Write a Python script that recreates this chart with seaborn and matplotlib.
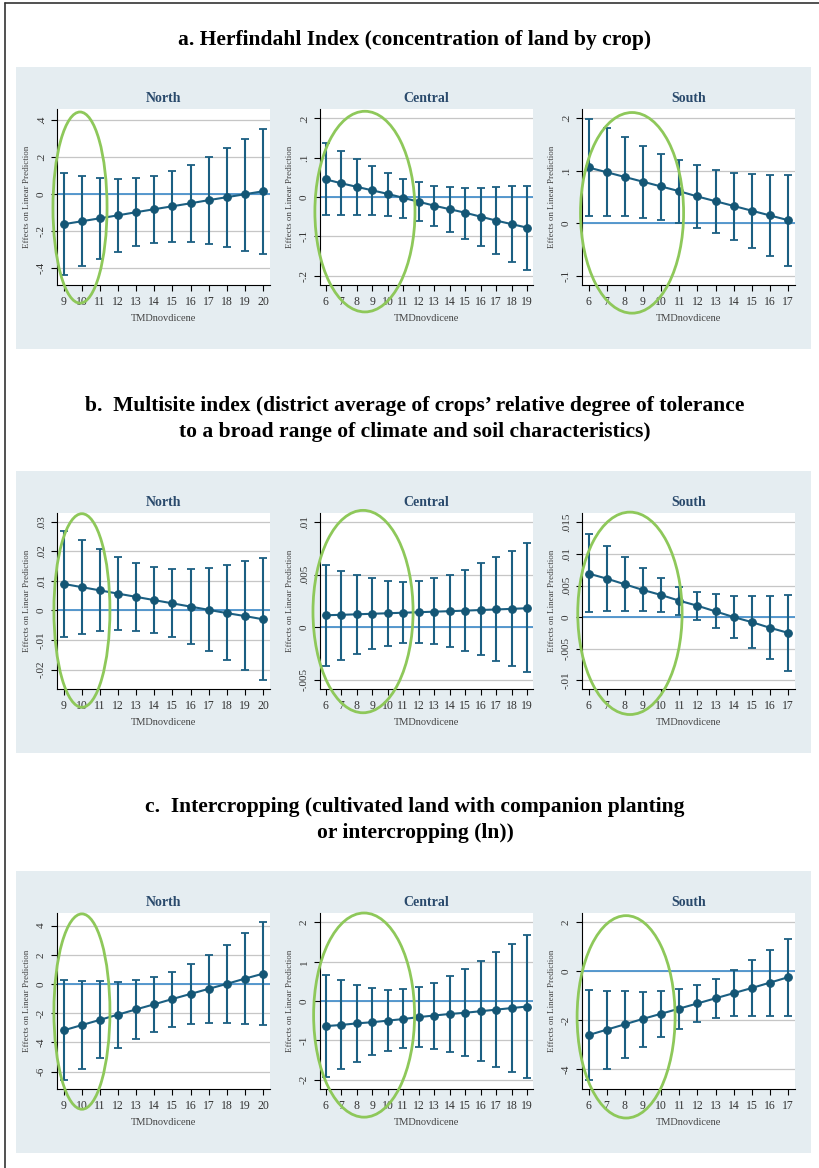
import numpy as np
import pandas as pd
import matplotlib
matplotlib.use("Agg")
import matplotlib.pyplot as plt
import seaborn as sns
from matplotlib.patches import Ellipse, Rectangle

# ------------------------------------------------------------
# Data
# ------------------------------------------------------------

north_x = list(range(9, 21))
central_x = list(range(6, 20))
south_x = list(range(6, 18))

# a. Herfindahl index
a_north_est = [-0.162, -0.146, -0.130, -0.114, -0.097, -0.081, -0.065, -0.049, -0.032, -0.016, 0.000, 0.016]
a_north_hi = [0.116, 0.098, 0.087, 0.082, 0.086, 0.100, 0.128, 0.160, 0.203, 0.250, 0.300, 0.352]
a_north_lo = [-0.438, -0.390, -0.350, -0.312, -0.282, -0.263, -0.256, -0.258, -0.268, -0.285, -0.305, -0.325]

a_central_est = [0.045, 0.035, 0.026, 0.017, 0.008, -0.002, -0.012, -0.022, -0.031, -0.040, -0.050, -0.060, -0.069, -0.078]
a_central_hi = [0.137, 0.117, 0.097, 0.078, 0.062, 0.047, 0.037, 0.029, 0.026, 0.024, 0.024, 0.025, 0.027, 0.028]
a_central_lo = [-0.047, -0.046, -0.045, -0.046, -0.048, -0.053, -0.062, -0.073, -0.089, -0.106, -0.125, -0.145, -0.166, -0.186]

a_south_est = [0.106, 0.097, 0.088, 0.079, 0.070, 0.061, 0.051, 0.042, 0.033, 0.024, 0.015, 0.006]
a_south_hi = [0.198, 0.180, 0.163, 0.147, 0.132, 0.120, 0.110, 0.101, 0.096, 0.093, 0.092, 0.091]
a_south_lo = [0.014, 0.014, 0.013, 0.010, 0.006, 0.001, -0.008, -0.018, -0.031, -0.046, -0.062, -0.080]

# b. Multisite index
b_north_est = [0.0090, 0.0079, 0.0068, 0.0057, 0.0046, 0.0035, 0.0024, 0.0013, 0.0002, -0.0009, -0.0019, -0.0030]
b_north_hi = [0.0270, 0.0237, 0.0208, 0.0182, 0.0161, 0.0147, 0.0141, 0.0141, 0.0145, 0.0154, 0.0166, 0.0178]
b_north_lo = [-0.0090, -0.0080, -0.0071, -0.0067, -0.0068, -0.0075, -0.0091, -0.0112, -0.0139, -0.0169, -0.0202, -0.0235]

b_central_est = [0.00114, 0.00118, 0.00123, 0.00128, 0.00133, 0.00138, 0.00143, 0.00148, 0.00153, 0.00158, 0.00164, 0.00169, 0.00175, 0.00181]
b_central_hi = [0.0059, 0.0054, 0.0050, 0.0047, 0.0044, 0.0043, 0.0044, 0.0047, 0.0050, 0.0055, 0.0061, 0.0067, 0.0073, 0.0080]
b_central_lo = [-0.0037, -0.0031, -0.0026, -0.0021, -0.0018, -0.0015, -0.0015, -0.0016, -0.0019, -0.0023, -0.0027, -0.0032, -0.0037, -0.0043]

b_south_est = [0.0069, 0.0061, 0.0052, 0.0043, 0.0035, 0.0026, 0.0018, 0.0009, 0.0000, -0.0008, -0.0017, -0.0025]
b_south_hi = [0.0131, 0.0113, 0.0095, 0.0078, 0.0062, 0.0048, 0.0039, 0.0036, 0.0034, 0.0033, 0.0034, 0.0035]
b_south_lo = [0.0008, 0.0009, 0.0009, 0.0009, 0.0008, 0.0004, -0.0004, -0.0017, -0.0033, -0.0049, -0.0067, -0.0085]

# c. Intercropping
c_north_est = [-3.18, -2.82, -2.46, -2.10, -1.74, -1.39, -1.03, -0.68, -0.33, 0.01, 0.37, 0.71]
c_north_hi = [0.30, 0.24, 0.18, 0.17, 0.25, 0.48, 0.85, 1.35, 1.99, 2.70, 3.47, 4.23]
c_north_lo = [-6.58, -5.81, -5.07, -4.37, -3.75, -3.27, -2.93, -2.74, -2.67, -2.67, -2.72, -2.81]

c_central_est = [-0.64, -0.61, -0.57, -0.54, -0.50, -0.46, -0.41, -0.37, -0.33, -0.30, -0.26, -0.22, -0.18, -0.14]
c_central_hi = [0.65, 0.53, 0.42, 0.34, 0.29, 0.30, 0.36, 0.47, 0.63, 0.81, 1.03, 1.24, 1.46, 1.68]
c_central_lo = [-1.94, -1.73, -1.54, -1.38, -1.26, -1.19, -1.18, -1.22, -1.30, -1.41, -1.53, -1.67, -1.80, -1.96]

c_south_est = [-2.60, -2.38, -2.16, -1.94, -1.73, -1.52, -1.31, -1.10, -0.89, -0.68, -0.46, -0.24]
c_south_hi = [-0.75, -0.79, -0.82, -0.83, -0.81, -0.71, -0.56, -0.30, 0.07, 0.46, 0.88, 1.33]
c_south_lo = [-4.43, -3.97, -3.52, -3.10, -2.69, -2.34, -2.08, -1.92, -1.82, -1.81, -1.82, -1.83]

# y ticks and labels (Stata style)
a_north_yt = [-0.4, -0.2, 0, 0.2, 0.4]
a_north_yl = ["-.4", "-.2", "0", ".2", ".4"]
a_central_yt = [-0.2, -0.1, 0, 0.1, 0.2]
a_central_yl = ["-.2", "-.1", "0", ".1", ".2"]
a_south_yt = [-0.1, 0, 0.1, 0.2]
a_south_yl = ["-.1", "0", ".1", ".2"]
b_north_yt = [-0.02, -0.01, 0, 0.01, 0.02, 0.03]
b_north_yl = ["-.02", "-.01", "0", ".01", ".02", ".03"]
b_central_yt = [-0.005, 0, 0.005, 0.01]
b_central_yl = ["-.005", "0", ".005", ".01"]
b_south_yt = [-0.01, -0.005, 0, 0.005, 0.01, 0.015]
b_south_yl = ["-.01", "-.005", "0", ".005", ".01", ".015"]
c_north_yt = [-6, -4, -2, 0, 2, 4]
c_north_yl = ["-6", "-4", "-2", "0", "2", "4"]
c_central_yt = [-2, -1, 0, 1, 2]
c_central_yl = ["-2", "-1", "0", "1", "2"]
c_south_yt = [-4, -2, 0, 2]
c_south_yl = ["-4", "-2", "0", "2"]

a_ylims = [(-0.49, 0.46), (-0.224, 0.224), (-0.117, 0.217)]
b_ylims = [(-0.0266, 0.033), (-0.0059, 0.0109), (-0.0114, 0.0165)]
c_ylims = [(-7.2, 4.87), (-2.24, 2.24), (-4.8, 2.38)]

regions = ["North", "Central", "South"]
section_titles = [
    "a. Herfindahl Index (concentration of land by crop)",
    "b.  Multisite index (district average of crops\u2019 relative degree of tolerance\nto a broad range of climate and soil characteristics)",
    "c.  Intercropping (cultivated land with companion planting\nor intercropping (ln))",
]

# ------------------------------------------------------------
# Style
# ------------------------------------------------------------

sns.set_theme(style="white")
plt.rcParams["font.family"] = ["Liberation Serif", "DejaVu Serif"]

W, H = 819, 1168
LINE = "#1b5f82"
DOT = "#145675"
REF = "#4a92cc"
GRID = "#c6c6c6"
BG = "#e5edf1"
GREEN = "#8ec85a"
TITLE_C = "#2a4a6c"

fig = plt.figure(figsize=(W / 100, H / 100), dpi=100)
fig.patch.set_facecolor("white")

# frame (left / top border)
fig.add_artist(plt.Line2D([5 / W, 5 / W], [0, 1 - 3 / H], color="#333333", lw=1.2, transform=fig.transFigure))
fig.add_artist(plt.Line2D([5 / W, 1], [1 - 3 / H, 1 - 3 / H], color="#333333", lw=1.2, transform=fig.transFigure))

sec_tops = [67, 471, 871]
title_y = [40, 419, 820]
col_left = [57, 320, 582]
ax_w = 213

# green ellipses in axes fractions: (cx, cy, w, h)
ellipses = [
    [(0.108, 0.44, 0.254, 1.086), (0.211, 0.417, 0.47, 1.14), (0.235, 0.41, 0.484, 1.14)],
    [(0.117, 0.446, 0.263, 1.10), (0.202, 0.44, 0.47, 1.15), (0.225, 0.43, 0.49, 1.15)],
    [(0.117, 0.44, 0.263, 1.11), (0.207, 0.42, 0.474, 1.16), (0.207, 0.41, 0.46, 1.15)],
]

sections = [
    [(north_x, a_north_est, a_north_lo, a_north_hi, a_north_yt, a_north_yl),
     (central_x, a_central_est, a_central_lo, a_central_hi, a_central_yt, a_central_yl),
     (south_x, a_south_est, a_south_lo, a_south_hi, a_south_yt, a_south_yl)],
    [(north_x, b_north_est, b_north_lo, b_north_hi, b_north_yt, b_north_yl),
     (central_x, b_central_est, b_central_lo, b_central_hi, b_central_yt, b_central_yl),
     (south_x, b_south_est, b_south_lo, b_south_hi, b_south_yt, b_south_yl)],
    [(north_x, c_north_est, c_north_lo, c_north_hi, c_north_yt, c_north_yl),
     (central_x, c_central_est, c_central_lo, c_central_hi, c_central_yt, c_central_yl),
     (south_x, c_south_est, c_south_lo, c_south_hi, c_south_yt, c_south_yl)],
]
ylims = [a_ylims, b_ylims, c_ylims]

for s, panels in enumerate(sections):
    top = sec_tops[s]
    # light background panel
    fig.add_artist(Rectangle((16 / W, 1 - (top + 282) / H), (811 - 16) / W, 282 / H,
                             transform=fig.transFigure, facecolor=BG, edgecolor="none", zorder=0))
    fig.text(415 / W, 1 - title_y[s] / H, section_titles[s], ha="center", va="center",
             fontsize=15.5, fontweight="bold", color="black", linespacing=1.4)

    for c, (xs, est, lo, hi, yt, yl) in enumerate(panels):
        ax_top = top + 42
        ax_bot = top + 218
        ax = fig.add_axes([col_left[c] / W, 1 - ax_bot / H, ax_w / W, (ax_bot - ax_top) / H])
        ax.set_facecolor("white")

        df = pd.DataFrame({"x": xs, "est": est, "lo": lo, "hi": hi})

        for t in yt:
            ax.axhline(t, color=GRID, lw=0.9, zorder=1)
        ax.axhline(0, color=REF, lw=1.3, zorder=2)

        ax.errorbar(df["x"], df["est"],
                    yerr=[df["est"] - df["lo"], df["hi"] - df["est"]],
                    fmt="none", ecolor=LINE, elinewidth=1.5, capsize=2.6, capthick=1.3, zorder=3)
        sns.lineplot(data=df, x="x", y="est", ax=ax, color=LINE, lw=1.5,
                     marker="o", markersize=5.5, markerfacecolor=DOT, markeredgecolor=DOT,
                     zorder=4)

        ax.set_xlim(xs[0] - 0.36, xs[-1] + 0.38)
        ax.set_ylim(*ylims[s][c])
        ax.set_xticks(xs)
        ax.set_xticklabels([str(v) for v in xs], fontsize=8.5, color="#333333")
        ax.set_yticks(yt)
        ax.set_yticklabels(yl, fontsize=8, color="#333333", rotation=90, va="center")
        ax.tick_params(axis="both", direction="out", length=4, width=0.8, color="black",
                       bottom=True, left=True, pad=4)

        for side in ["top", "right"]:
            ax.spines[side].set_visible(False)
        for side in ["left", "bottom"]:
            ax.spines[side].set_color("black")
            ax.spines[side].set_linewidth(0.8)

        ax.set_xlabel("TMDnovdicene", fontsize=7.5, color="#444444", labelpad=4)
        ax.set_ylabel("Effects on Linear Prediction", fontsize=6.5, color="#444444", labelpad=4)
        ax.set_title(regions[c], fontsize=10, fontweight="bold", color=TITLE_C, pad=5)

        ex, ey, ew, eh = ellipses[s][c]
        ax.add_patch(Ellipse((ex, ey), ew, eh, transform=ax.transAxes, fill=False,
                             edgecolor=GREEN, lw=2.0, clip_on=False, zorder=6))

fig.savefig("out.png", dpi=100, facecolor="white")
